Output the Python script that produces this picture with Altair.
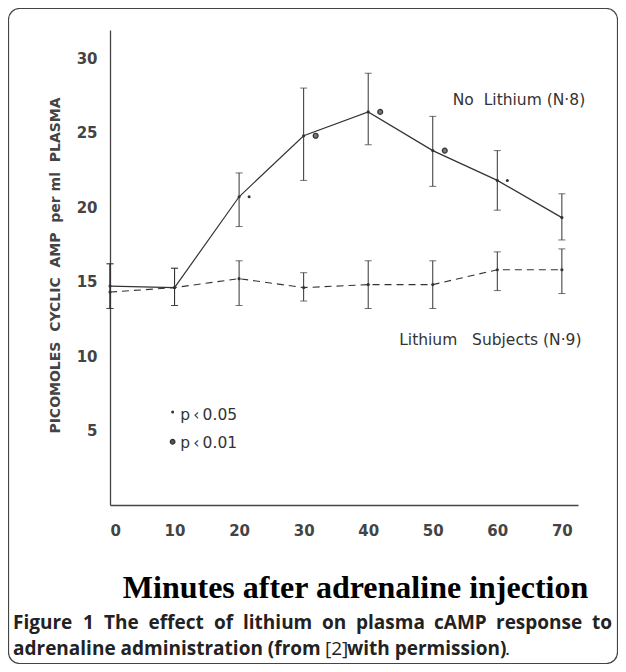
import altair as alt
import pandas as pd

# ---- data ----
minutes = [0, 10, 20, 30, 40, 50, 60, 70]
no_li_mean = [14.7, 14.6, 20.7, 24.8, 26.4, 23.8, 21.8, 19.3]
no_li_hi = [16.2, 15.9, 22.3, 28.0, 29.0, 26.1, 23.8, 20.9]
no_li_lo = [13.2, 13.4, 18.7, 21.8, 24.2, 21.4, 19.8, 17.8]
li_mean = [14.3, 14.6, 15.2, 14.6, 14.8, 14.8, 15.8, 15.8]
li_hi = [16.2, 15.9, 16.4, 15.6, 16.4, 16.4, 17.0, 17.2]
li_lo = [13.2, 13.4, 13.4, 13.7, 13.2, 13.2, 14.4, 14.2]

sig_minutes = [20, 30, 40, 50, 60]
sig_values = [20.7, 24.8, 26.4, 23.8, 21.8]
sig_level = ["p<0.05", "p<0.01", "p<0.01", "p<0.01", "p<0.05"]

x_ticks = [0, 10, 20, 30, 40, 50, 60, 70]
y_ticks = [5, 10, 15, 20, 25, 30]

labels = [
    {"x": 53.1, "y": 27.2, "t": "No\u00a0\u00a0Lithium\u00a0(N\u00b78)"},
    {"x": 44.8, "y": 11.1, "t": "Lithium\u00a0\u00a0\u00a0Subjects\u00a0(N\u00b79)"},
    {"x": 10.9, "y": 6.05, "t": "p\u2009\u2039\u20090.05"},
    {"x": 10.9, "y": 4.15, "t": "p\u2009\u2039\u20090.01"},
]
legend_small = [{"x": 9.7, "y": 6.25}]
legend_big = [{"x": 9.7, "y": 4.25}]

# caption pieces, justified like the original (text, weight, align, x px, y px)
L1, L2 = 599, 625
caption = [
    ("Figure", 700, "left", -97, L1),
    ("1", 700, "left", -27, L1),
    ("The", 700, "left", -6, L1),
    ("effect", 700, "left", 38.5, L1),
    ("of", 700, "left", 104, L1),
    ("lithium", 700, "left", 133, L1),
    ("on", 700, "left", 212, L1),
    ("plasma", 700, "left", 246, L1),
    ("cAMP", 700, "left", 324, L1),
    ("response", 700, "left", 386, L1),
    ("to", 700, "right", 502, L1),
    ("adrenaline administration (from", 700, "left", -97, L2),
    ("[2]", 400, "left", 215, L2),
    ("with permission)", 700, "left", 237, L2),
    (".", 400, "left", 395, L2),
]

INK = "#333333"

df = pd.DataFrame({
    "minutes": minutes * 2,
    "mean": no_li_mean + li_mean,
    "hi": no_li_hi + li_hi,
    "lo": no_li_lo + li_lo,
    "series": ["No Lithium"] * 8 + ["Lithium"] * 8,
})
sig = pd.DataFrame({"minutes": sig_minutes, "mean": sig_values, "level": sig_level})

xs = alt.Scale(domain=[0, 72.5], nice=False, zero=False)
ys = alt.Scale(domain=[0, 31.9], nice=False, zero=False)

X = alt.X("minutes:Q", scale=xs, axis=alt.Axis(
    values=x_ticks, ticks=False, tickSize=0, grid=False, labelPadding=25,
    labelBaseline="middle", labelFont="DejaVu Sans", labelFontWeight="bold",
    labelFontSize=15, labelColor="#444444", domainColor="#444444", domainWidth=1.3,
    title="Minutes after adrenaline injection", titleFont="Liberation Serif",
    titleFontSize=32, titleFontWeight="bold", titleColor="#000000",
    titleX=245, titleY=92, titleBaseline="alphabetic", titleAlign="center"))
Y = alt.Y("mean:Q", scale=ys, axis=alt.Axis(
    values=y_ticks, ticks=False, tickSize=0, grid=False, labelPadding=13,
    labelFont="DejaVu Sans", labelFontWeight="bold", labelFontSize=15,
    labelColor="#444444", domainColor="#444444", domainWidth=1.3,
    title="PICOMOLES\u00a0\u00a0CYCLIC\u00a0\u00a0AMP\u00a0\u00a0per\u00a0ml\u00a0\u00a0PLASMA",
    titleFont="DejaVu Sans", titleFontWeight="bold", titleFontSize=14,
    titleColor="#444444", titleAngle=270, titleX=-55, titleY=235,
    titleBaseline="middle", titleAlign="center"))

base = alt.Chart(df)

line_no = base.transform_filter(alt.datum.series == "No Lithium").mark_line(
    color=INK, strokeWidth=1.2).encode(x=X, y=Y)
line_li = base.transform_filter(alt.datum.series == "Lithium").mark_line(
    color=INK, strokeWidth=1.1, strokeDash=[7, 5]).encode(x=X, y=Y)

bars = base.mark_rule(color=INK, strokeWidth=1).encode(
    x="minutes:Q", y="lo:Q", y2="hi:Q")
cap_hi = base.mark_tick(orient="horizontal", color=INK, size=7, thickness=1).encode(
    x="minutes:Q", y="hi:Q")
cap_lo = base.mark_tick(orient="horizontal", color=INK, size=7, thickness=1).encode(
    x="minutes:Q", y="lo:Q")
pts = base.mark_point(filled=True, color=INK, size=10, opacity=1).encode(
    x="minutes:Q", y="mean:Q")

sig_small = alt.Chart(sig).transform_filter(alt.datum.level == "p<0.05").mark_point(
    filled=True, color=INK, size=9, opacity=1, xOffset=10).encode(
    x="minutes:Q", y="mean:Q")
sig_big = alt.Chart(sig).transform_filter(alt.datum.level == "p<0.01").mark_point(
    filled=True, fill="#777777", stroke=INK, strokeWidth=1.2, size=24, opacity=1,
    xOffset=12).encode(x="minutes:Q", y="mean:Q")

txt = alt.Chart(alt.Data(values=labels)).mark_text(
    align="left", baseline="middle", font="DejaVu Sans", fontSize=15.5,
    color=INK).encode(x="x:Q", y="y:Q", text="t:N")
leg_s = alt.Chart(alt.Data(values=legend_small)).mark_point(
    filled=True, color=INK, size=9, opacity=1).encode(x="x:Q", y="y:Q")
leg_b = alt.Chart(alt.Data(values=legend_big)).mark_point(
    filled=True, fill="#555555", stroke=INK, strokeWidth=1.2, size=22, opacity=1
).encode(x="x:Q", y="y:Q")

one = alt.Data(values=[{"k": 1}])
frame = alt.Chart(one).mark_rect(
    fill="transparent", stroke="#444444", strokeWidth=1.2, cornerRadius=11).encode(
    x=alt.value(-101.5), x2=alt.value(507.5), y=alt.value(-21.5), y2=alt.value(633.5))

cap_layers = []
for t, w, a, px, py in caption:
    cap_layers.append(alt.Chart(one).mark_text(
        align=a, baseline="alphabetic", font="Open Sans", fontSize=19,
        fontWeight=w, color="#222222").encode(
        x=alt.value(px), y=alt.value(py), text=alt.value(t)))

chart = alt.layer(
    frame, bars, cap_hi, cap_lo, line_no, line_li, pts, sig_small, sig_big,
    txt, leg_s, leg_b, *cap_layers
).properties(
    width=468, height=475, autosize="none",
    padding={"left": 102, "top": 22, "right": 40, "bottom": 159},
    background="#ffffff",
).configure_view(stroke=None)

chart.save("out.html", embed_options={"renderer": "svg", "actions": False})
